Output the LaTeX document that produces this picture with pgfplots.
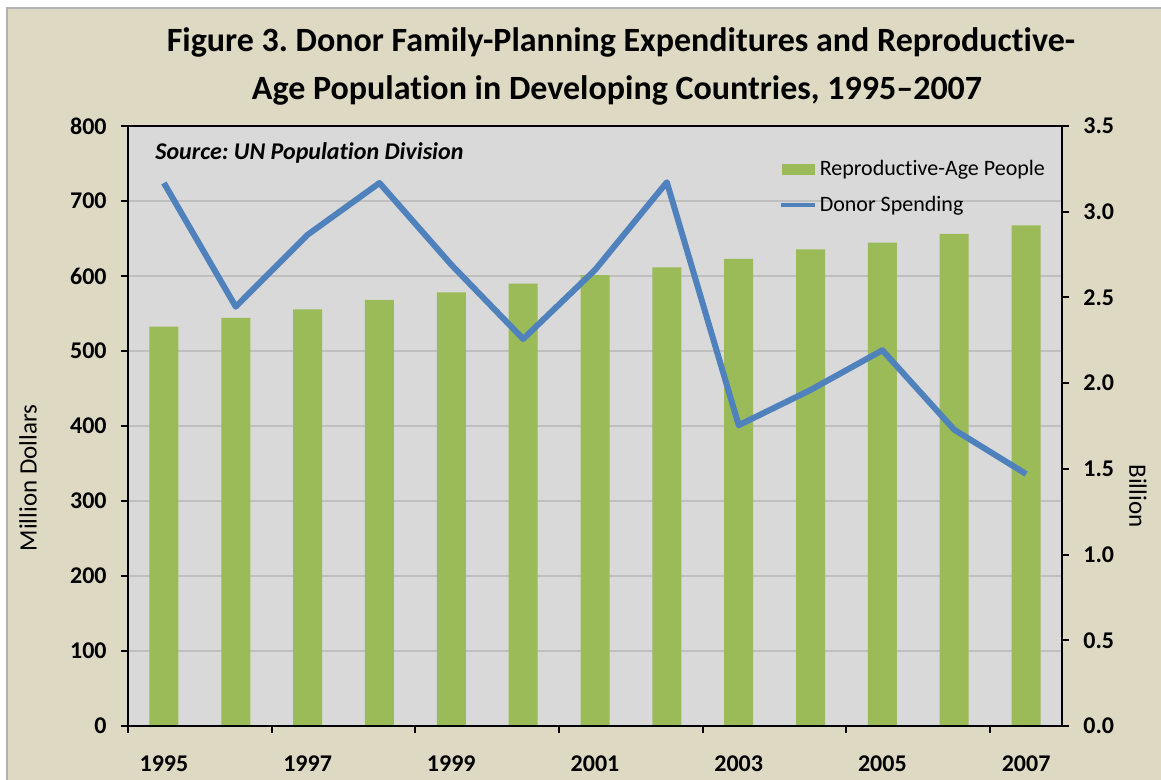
\documentclass[border=0pt]{standalone}
\usepackage{pgfplots}
\pgfplotsset{compat=1.18}
\usepackage{pgfplotstable}
\usepackage{fontspec}
\setmainfont{Carlito}[Ligatures={TeX,NoCommon}]
\frenchspacing
\definecolor{bgtan}{HTML}{DDD9C3}
\definecolor{plotgray}{HTML}{D9D9D9}
\definecolor{gridgray}{HTML}{BFBFBF}
\definecolor{bargreen}{HTML}{9BBB59}
\definecolor{lineblue}{HTML}{4F81BD}
\newcommand\tf{\fontsize{12}{14.4}\selectfont}

\pgfplotstableread{
year people
1995 2.33
1996 2.38
1997 2.43
1998 2.485
1999 2.53
2000 2.58
2001 2.63
2002 2.675
2003 2.725
2004 2.78
2005 2.82
2006 2.87
2007 2.92
}\peopletable

\pgfplotstableread{
year spend
1995 724
1996 559
1997 655
1998 724
1999 615
2000 516
2001 608
2002 725
2003 401
2004 448
2005 501
2006 395
2007 336
}\spendtable

\begin{document}
\begin{tikzpicture}[x=1pt,y=1pt]
\useasboundingbox (0,0) rectangle (580.5,390);
\fill[white] (0,0) rectangle (580.5,390);
\filldraw[fill=bgtan, draw=gray!60, line width=0.6pt] (3.5,-2) rectangle (583,386);

\pgfplotsset{base/.style={
  at={(64pt,27pt)}, anchor=south west,
  width=467pt, height=300pt, scale only axis,
  xmin=1994.5, xmax=2007.5,
  /pgf/number format/assume math mode=true,
  tick align=outside,
  major tick length=3.5pt,
  tick style={black, line width=1pt},
  tick label style={font=\tf\bfseries},
}}

% Axis 1: background, grid, frame, left and bottom ticks
\begin{axis}[base,
  ymin=0, ymax=800, ytick={0,100,...,800},
  ytick pos=left, xtick pos=bottom,
  axis background/.style={fill=plotgray},
  ymajorgrids, grid style={gridgray, line width=0.9pt},
  axis line style={black, line width=1.2pt},
  xtick={1994.5,1996.5,1998.5,2000.5,2002.5,2004.5,2006.5},
  xticklabels={,,,,,,},
  extra x ticks={1995,1997,1999,2001,2003,2005,2007},
  extra x tick labels={1995,1997,1999,2001,2003,2005,2007},
  extra x tick style={tick style={draw=none}, xticklabel style={anchor=north, inner sep=0pt, yshift=-11pt}},
  yticklabel style={anchor=east, inner sep=0pt, xshift=-7pt},
  /pgf/number format/1000 sep={},
]
\addplot[draw=none, forget plot] coordinates {(1995,0)};
\end{axis}

% Axis 2: bars on the right scale
\begin{axis}[base,
  ymin=0, ymax=3.5, ytick={0,0.5,...,3.5},
  axis y line*=right, axis x line*=bottom,
  xtick=\empty,
  axis on top,
  axis line style={black, line width=1.2pt},
  yticklabel style={anchor=west, inner sep=0pt, xshift=7pt,
    /pgf/number format/.cd, fixed, fixed zerofill, precision=1},
  legend style={draw=none, fill=none, at={(0.697,0.948)}, anchor=north west,
    font=\fontsize{11}{13}\selectfont, inner sep=0pt, row sep=6.5pt, column sep=0pt,
    nodes={inner sep=1.2pt}, cells={anchor=west}},
]
\addplot[ybar, bar width=14.5pt, fill=bargreen, draw=none,
  legend image code/.code={\fill[bargreen] (0pt,-2.75pt) rectangle (16.5pt,2.75pt);}]
  table[x=year, y=people] {\peopletable};
\addlegendentry{Reproductive-Age People}
\addlegendimage{legend image code/.code={\draw[lineblue, line width=2pt] (-0.5pt,0pt) -- (16.5pt,0pt);}}
\addlegendentry{Donor Spending}
\end{axis}

% Axis 3: line on the left scale
\begin{axis}[base, hide axis, ymin=0, ymax=800]
\addplot[lineblue, line width=3pt, line join=round, mark=none]
  table[x=year, y=spend] {\spendtable};
\end{axis}

\node[anchor=base, font=\fontsize{17}{20}\selectfont\bfseries] at (310.5,364)
  {Figure 3. Donor Family-Planning Expenditures and Reproductive-};
\node[anchor=base, font=\fontsize{17}{20}\selectfont\bfseries] at (308.5,340)
  {Age Population in Developing Countries, 1995--2007};
\node[anchor=base west, inner sep=0pt, font=\tf\bfseries\itshape] at (77.5,310)
  {Source: UN Population Division};
\node[rotate=90, font=\fontsize{12.5}{15}\selectfont] at (14,151) {Million Dollars};
\node[rotate=-90, font=\fontsize{12.5}{15}\selectfont] at (569,142) {Billion};
\end{tikzpicture}
\end{document}
